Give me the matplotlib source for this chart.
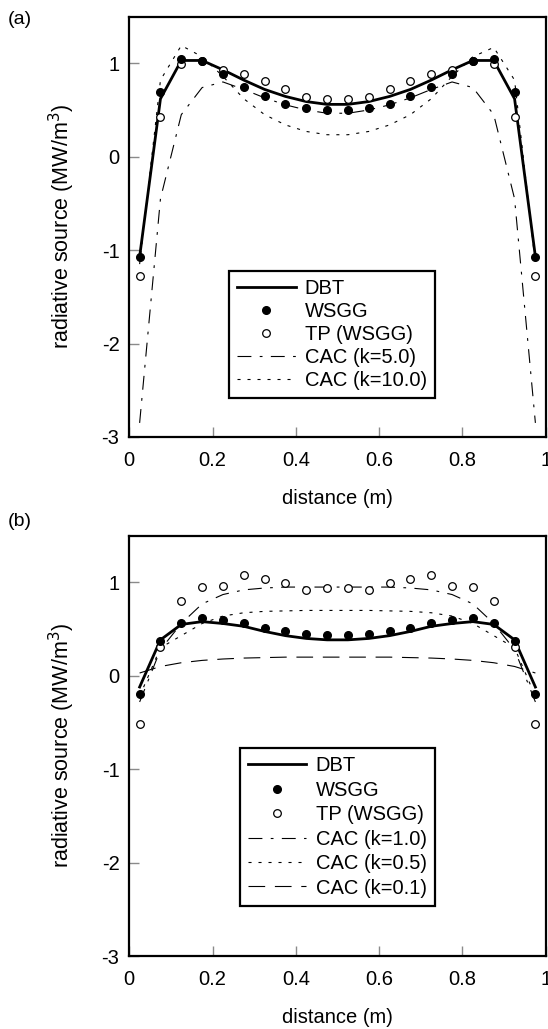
import matplotlib
matplotlib.use("Agg")
import matplotlib.pyplot as plt

plt.rcParams['font.family'] = ['Liberation Sans', 'DejaVu Sans']
plt.rcParams['axes.unicode_minus'] = False
plt.rcParams['lines.scale_dashes'] = False

# ---------------- data ----------------
distance = [0.025, 0.075, 0.125, 0.175, 0.225, 0.275, 0.325, 0.375, 0.425, 0.475,
            0.525, 0.575, 0.625, 0.675, 0.725, 0.775, 0.825, 0.875, 0.925, 0.975]

# panel (a)
a_dbt = [-1.07, 0.62, 1.03, 1.03, 0.93, 0.82, 0.72, 0.645, 0.59, 0.56,
         0.56, 0.59, 0.645, 0.72, 0.82, 0.93, 1.03, 1.03, 0.62, -1.07]
a_wsgg = [-1.07, 0.69, 1.045, 1.02, 0.89, 0.75, 0.65, 0.565, 0.525, 0.50,
          0.50, 0.525, 0.565, 0.65, 0.75, 0.89, 1.02, 1.045, 0.69, -1.07]
a_tp = [-1.28, 0.42, 0.99, 1.02, 0.93, 0.89, 0.81, 0.72, 0.64, 0.62,
        0.62, 0.64, 0.72, 0.81, 0.89, 0.93, 1.02, 0.99, 0.42, -1.28]
a_cac5 = [-2.85, -0.45, 0.45, 0.74, 0.80, 0.72, 0.63, 0.555, 0.50, 0.465,
          0.465, 0.50, 0.555, 0.63, 0.72, 0.80, 0.74, 0.45, -0.45, -2.85]
a_cac10 = [-1.15, 0.82, 1.19, 1.07, 0.86, 0.62, 0.45, 0.34, 0.27, 0.235,
           0.235, 0.27, 0.34, 0.45, 0.62, 0.86, 1.07, 1.17, 0.82, -1.15]

# panel (b)
b_dbt = [-0.12, 0.385, 0.55, 0.58, 0.56, 0.53, 0.475, 0.43, 0.40, 0.385,
         0.385, 0.40, 0.43, 0.475, 0.53, 0.56, 0.58, 0.55, 0.385, -0.12]
b_wsgg = [-0.19, 0.37, 0.57, 0.62, 0.60, 0.565, 0.51, 0.475, 0.447, 0.44,
          0.44, 0.447, 0.475, 0.51, 0.565, 0.60, 0.62, 0.57, 0.37, -0.19]
b_tp = [-0.52, 0.31, 0.80, 0.95, 0.96, 1.075, 1.035, 0.99, 0.92, 0.935,
        0.935, 0.92, 0.99, 1.035, 1.075, 0.96, 0.95, 0.80, 0.31, -0.52]
b_cac1 = [-0.28, 0.28, 0.56, 0.77, 0.87, 0.92, 0.94, 0.95, 0.95, 0.95,
          0.95, 0.95, 0.95, 0.94, 0.92, 0.87, 0.77, 0.56, 0.28, -0.28]
b_cac05 = [-0.22, 0.30, 0.43, 0.56, 0.64, 0.675, 0.69, 0.695, 0.70, 0.70,
           0.70, 0.70, 0.695, 0.69, 0.675, 0.64, 0.56, 0.43, 0.30, -0.22]
b_cac01 = [0.03, 0.10, 0.14, 0.165, 0.18, 0.19, 0.195, 0.20, 0.20, 0.20,
           0.20, 0.20, 0.20, 0.195, 0.19, 0.18, 0.165, 0.14, 0.10, 0.03]

x_ticks = [0, 0.2, 0.4, 0.6, 0.8, 1]
x_ticklabels = ['0', '0.2', '0.4', '0.6', '0.8', '1']
y_ticks = [-3, -2, -1, 0, 1]
y_ticklabels = ['-3', '-2', '-1', '0', '1']
x_label = 'distance (m)'
y_label = 'radiative source (MW/m$^3$)'

labels_a = ['DBT', 'WSGG', 'TP (WSGG)', 'CAC (k=5.0)', 'CAC (k=10.0)']
labels_b = ['DBT', 'WSGG', 'TP (WSGG)', 'CAC (k=1.0)', 'CAC (k=0.5)', 'CAC (k=0.1)']

DASHDOT = (10, 6, 2, 6)
DOTTED = (2.2, 5)
LONGDASH = (12, 7)

fig = plt.figure(figsize=(5.48, 10.29), dpi=100)
ax_a = fig.add_axes([0.2358, 0.5754, 0.7602, 0.4085])
ax_b = fig.add_axes([0.2358, 0.0709, 0.7602, 0.4085])


def style(ax):
    ax.set_xlim(0, 1)
    ax.set_ylim(-3, 1.5)
    ax.set_xticks(x_ticks)
    ax.set_xticklabels(x_ticklabels)
    ax.set_yticks(y_ticks)
    ax.set_yticklabels(y_ticklabels)
    ax.tick_params(direction='in', length=7, width=1, color='#8a8a8a', labelsize=14.5)
    ax.tick_params(axis='x', pad=10)
    ax.tick_params(axis='y', pad=7)
    for s in ax.spines.values():
        s.set_linewidth(1.6)
        s.set_color('black')
    ax.set_xlabel(x_label, fontsize=14.5, labelpad=14)
    ax.set_ylabel(y_label, fontsize=15.5, labelpad=18)


def legend(ax, anchor, spacing):
    leg = ax.legend(loc='lower left', bbox_to_anchor=anchor, fontsize=14.5,
                    frameon=True, fancybox=False, framealpha=1, edgecolor='black',
                    handlelength=2.9, borderpad=0.4, labelspacing=spacing,
                    handletextpad=0.45, borderaxespad=0)
    leg.get_frame().set_linewidth(1.6)
    return leg


# panel (a)
ax_a.plot(distance, a_dbt, color='black', lw=2.0, label=labels_a[0], zorder=3)
ax_a.plot(distance, a_wsgg, ls='none', marker='o', ms=5.5, mfc='black', mec='black',
          label=labels_a[1], zorder=5)
ax_a.plot(distance, a_tp, ls='none', marker='o', ms=5.5, mfc='white', mec='black', mew=0.9,
          label=labels_a[2], zorder=4)
ax_a.plot(distance, a_cac5, color='black', lw=0.8, dashes=DASHDOT, label=labels_a[3], zorder=2)
ax_a.plot(distance, a_cac10, color='black', lw=0.8, dashes=DOTTED, label=labels_a[4], zorder=2)
style(ax_a)
legend(ax_a, (0.24, 0.0925), 0.2)

# panel (b)
ax_b.plot(distance, b_dbt, color='black', lw=2.0, label=labels_b[0], zorder=3)
ax_b.plot(distance, b_wsgg, ls='none', marker='o', ms=5.5, mfc='black', mec='black',
          label=labels_b[1], zorder=5)
ax_b.plot(distance, b_tp, ls='none', marker='o', ms=5.5, mfc='white', mec='black', mew=0.9,
          label=labels_b[2], zorder=4)
ax_b.plot(distance, b_cac1, color='black', lw=0.8, dashes=DASHDOT, label=labels_b[3], zorder=2)
ax_b.plot(distance, b_cac05, color='black', lw=0.8, dashes=DOTTED, label=labels_b[4], zorder=2)
ax_b.plot(distance, b_cac01, color='black', lw=0.8, dashes=LONGDASH, label=labels_b[5], zorder=2)
style(ax_b)
legend(ax_b, (0.266, 0.12), 0.27)

fig.text(0.015, 1 - 19 / 1029, '(a)', fontsize=14, va='center', ha='left')
fig.text(0.015, 1 - 522 / 1029, '(b)', fontsize=14, va='center', ha='left')

fig.savefig('out.png', dpi=100)
